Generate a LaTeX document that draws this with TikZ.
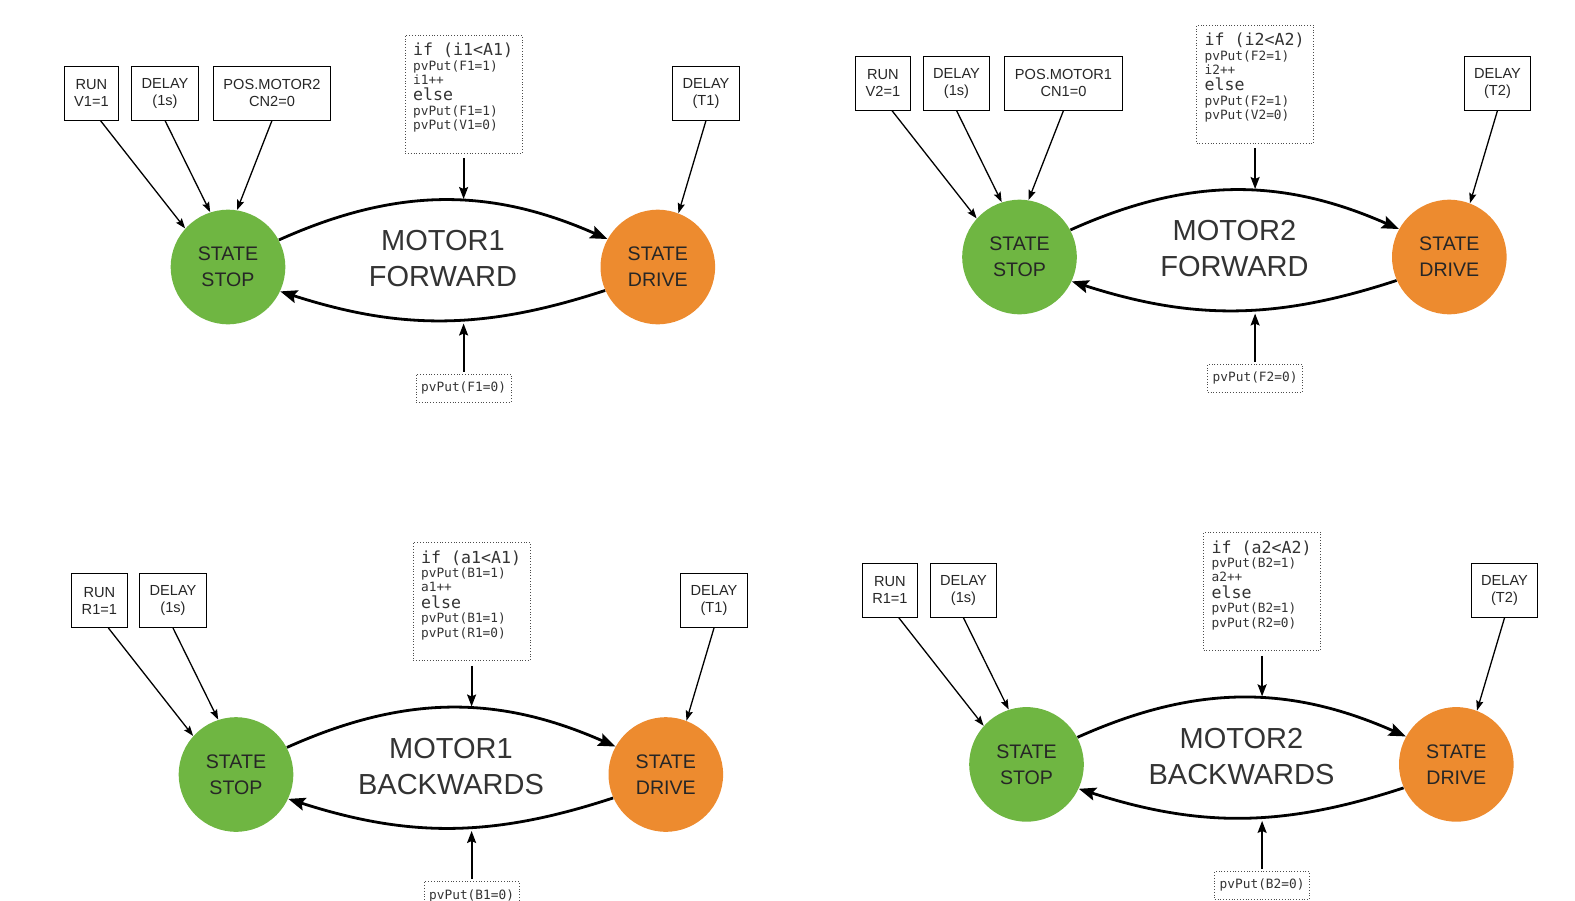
\documentclass[tikz,border=0pt]{standalone}
\usepackage{fontspec}
\setmainfont{Liberation Sans}
\setmonofont{DejaVu Sans Mono}
\usetikzlibrary{positioning,arrows.meta}

\definecolor{stopgreen}{RGB}{111,182,66}
\definecolor{driveorange}{RGB}{237,139,47}

\newcommand{\codebig}{\ttfamily\fontsize{8.3pt}{8.2pt}\selectfont}
\newcommand{\codesmall}{\ttfamily\fontsize{6.4pt}{7.2pt}\selectfont}
\newcommand{\codelines}[1]{\parbox[t][51pt][t]{50.5pt}{\setlength{\parindent}{0pt}#1}}

\begin{document}
\begin{tikzpicture}[x=0.5pt, y=-0.5pt,
    statecirc/.style = {circle, minimum size=57.3pt, inner sep=0pt, align=center,
                        font=\fontsize{9.8pt}{13pt}\selectfont, text=black!85},
    stopstate/.style = {statecirc, fill=stopgreen},
    drivestate/.style = {statecirc, fill=driveorange},
    titletext/.style = {align=center, font=\fontsize{14.5pt}{18pt}\selectfont, text=black!80},
    condbox/.style = {draw, line width=0.5pt, align=center, inner xsep=5pt, minimum height=27pt,
                      font=\fontsize{7.3pt}{8.5pt}\selectfont, text=black!85},
    codebox/.style = {draw=black!70, densely dotted, line width=0.4pt, inner sep=4pt, text=black!80},
    putbox/.style = {draw=black!70, densely dotted, line width=0.4pt, inner xsep=2.5pt,
                     minimum height=14pt, font=\codesmall, text=black!80},
    trigger/.style = {-{Stealth[length=5pt, width=3.6pt, inset=0.8pt]}, line width=0.65pt},
    transition/.style = {-{Stealth[length=8.5pt, width=6.5pt, inset=1.5pt]}, line width=1.4pt},
    inject/.style = {-{Stealth[length=6pt, width=4.5pt, inset=1pt]}, line width=0.9pt}]

    \useasboundingbox (0,0) rectangle (1575,900);

    % motor 1 forward
    \node[stopstate] (stop_1) at (228,267) {STATE\\STOP} ; %
    \node[drivestate, right = 157.2pt of stop_1] (drive_1) {STATE\\DRIVE} ; %
    \node[titletext] (title_1) at (443,259) {MOTOR1\\FORWARD} ; %
    \node[condbox] (run_1) at (91.4,93) {RUN\\V1=1} ; %
    \node[condbox] (delay_1) at (165,93) {DELAY\\(1s)} ; %
    \node[condbox] (pos_1) at (272,93) {POS.MOTOR2\\CN2=0} ; %
    \node[condbox] (wait_1) at (706,93) {DELAY\\(T1)} ; %
    \node[codebox] (code_1) at (463.6,94) {\codelines{{\codebig if (i1<A1)\par}
        {\codesmall pvPut(F1=1)\par}{\codesmall i1++\par}{\codebig else\par}
        {\codesmall pvPut(F1=1)\par}{\codesmall pvPut(V1=0)\par}}} ; %
    \node[putbox] (put_1) at (463.6,388) {pvPut(F1=0)} ; %
    \coordinate (hit_1) at (463.6,199) ; %
    \coordinate (back_1) at (463.6,323.5) ; %
    %
    \draw[trigger] ([xshift=4.5pt]run_1.south) -- (stop_1.138) ; %
    \draw[trigger] (delay_1.south) -- (stop_1.108) ; %
    \draw[trigger] (pos_1.south) -- (stop_1.81) ; %
    \draw[trigger] (wait_1.south) -- (drive_1.69) ; %
    \draw[transition] (stop_1.28) to[bend left=24] (drive_1.151) ; %
    \draw[transition] (drive_1.204) to[bend left=18] (stop_1.-25) ; %
    \draw[inject, shorten <=2.5pt] (code_1) -- (hit_1) ; %
    \draw[inject, shorten <=1pt] (put_1) -- (back_1) ; %

    % motor 2 forward
    \begin{scope}[shift={(791.5,-10)}]
    \node[stopstate] (stop_2) at (228,267) {STATE\\STOP} ; %
    \node[drivestate, right = 157.2pt of stop_2] (drive_2) {STATE\\DRIVE} ; %
    \node[titletext] (title_2) at (443,259) {MOTOR2\\FORWARD} ; %
    \node[condbox] (run_2) at (91.4,93) {RUN\\V2=1} ; %
    \node[condbox] (delay_2) at (165,93) {DELAY\\(1s)} ; %
    \node[condbox] (pos_2) at (272,93) {POS.MOTOR1\\CN1=0} ; %
    \node[condbox] (wait_2) at (706,93) {DELAY\\(T2)} ; %
    \node[codebox] (code_2) at (463.6,94) {\codelines{{\codebig if (i2<A2)\par}
        {\codesmall pvPut(F2=1)\par}{\codesmall i2++\par}{\codebig else\par}
        {\codesmall pvPut(F2=1)\par}{\codesmall pvPut(V2=0)\par}}} ; %
    \node[putbox] (put_2) at (463.6,388) {pvPut(F2=0)} ; %
    \coordinate (hit_2) at (463.6,199) ; %
    \coordinate (back_2) at (463.6,323.5) ; %
    %
    \draw[trigger] ([xshift=4.5pt]run_2.south) -- (stop_2.138) ; %
    \draw[trigger] (delay_2.south) -- (stop_2.108) ; %
    \draw[trigger] (pos_2.south) -- (stop_2.81) ; %
    \draw[trigger] (wait_2.south) -- (drive_2.69) ; %
    \draw[transition] (stop_2.28) to[bend left=24] (drive_2.151) ; %
    \draw[transition] (drive_2.204) to[bend left=18] (stop_2.-25) ; %
    \draw[inject, shorten <=2.5pt] (code_2) -- (hit_2) ; %
    \draw[inject, shorten <=1pt] (put_2) -- (back_2) ; %
    \end{scope}

    % motor 1 backwards
    \begin{scope}[shift={(8,507.5)}]
    \node[stopstate] (stop_3) at (228,267) {STATE\\STOP} ; %
    \node[drivestate, right = 157.2pt of stop_3] (drive_3) {STATE\\DRIVE} ; %
    \node[titletext] (title_3) at (443,259) {MOTOR1\\BACKWARDS} ; %
    \node[condbox] (run_3) at (91.4,93) {RUN\\R1=1} ; %
    \node[condbox] (delay_3) at (165,93) {DELAY\\(1s)} ; %
    \node[condbox] (wait_3) at (706,93) {DELAY\\(T1)} ; %
    \node[codebox] (code_3) at (463.6,94) {\codelines{{\codebig if (a1<A1)\par}
        {\codesmall pvPut(B1=1)\par}{\codesmall a1++\par}{\codebig else\par}
        {\codesmall pvPut(B1=1)\par}{\codesmall pvPut(R1=0)\par}}} ; %
    \node[putbox] (put_3) at (463.6,388) {pvPut(B1=0)} ; %
    \coordinate (hit_3) at (463.6,199) ; %
    \coordinate (back_3) at (463.6,323.5) ; %
    %
    \draw[trigger] ([xshift=4.5pt]run_3.south) -- (stop_3.138) ; %
    \draw[trigger] (delay_3.south) -- (stop_3.108) ; %
    \draw[trigger] (wait_3.south) -- (drive_3.69) ; %
    \draw[transition] (stop_3.28) to[bend left=24] (drive_3.151) ; %
    \draw[transition] (drive_3.204) to[bend left=18] (stop_3.-25) ; %
    \draw[inject, shorten <=2.5pt] (code_3) -- (hit_3) ; %
    \draw[inject, shorten <=1pt] (put_3) -- (back_3) ; %
    \end{scope}

    % motor 2 backwards
    \begin{scope}[shift={(798.5,497.4)}]
    \node[stopstate] (stop_4) at (228,267) {STATE\\STOP} ; %
    \node[drivestate, right = 157.2pt of stop_4] (drive_4) {STATE\\DRIVE} ; %
    \node[titletext] (title_4) at (443,259) {MOTOR2\\BACKWARDS} ; %
    \node[condbox] (run_4) at (91.4,93) {RUN\\R1=1} ; %
    \node[condbox] (delay_4) at (165,93) {DELAY\\(1s)} ; %
    \node[condbox] (wait_4) at (706,93) {DELAY\\(T2)} ; %
    \node[codebox] (code_4) at (463.6,94) {\codelines{{\codebig if (a2<A2)\par}
        {\codesmall pvPut(B2=1)\par}{\codesmall a2++\par}{\codebig else\par}
        {\codesmall pvPut(B2=1)\par}{\codesmall pvPut(R2=0)\par}}} ; %
    \node[putbox] (put_4) at (463.6,388) {pvPut(B2=0)} ; %
    \coordinate (hit_4) at (463.6,199) ; %
    \coordinate (back_4) at (463.6,323.5) ; %
    %
    \draw[trigger] ([xshift=4.5pt]run_4.south) -- (stop_4.138) ; %
    \draw[trigger] (delay_4.south) -- (stop_4.108) ; %
    \draw[trigger] (wait_4.south) -- (drive_4.69) ; %
    \draw[transition] (stop_4.28) to[bend left=24] (drive_4.151) ; %
    \draw[transition] (drive_4.204) to[bend left=18] (stop_4.-25) ; %
    \draw[inject, shorten <=2.5pt] (code_4) -- (hit_4) ; %
    \draw[inject, shorten <=1pt] (put_4) -- (back_4) ; %
    \end{scope}
\end{tikzpicture}
\end{document}
